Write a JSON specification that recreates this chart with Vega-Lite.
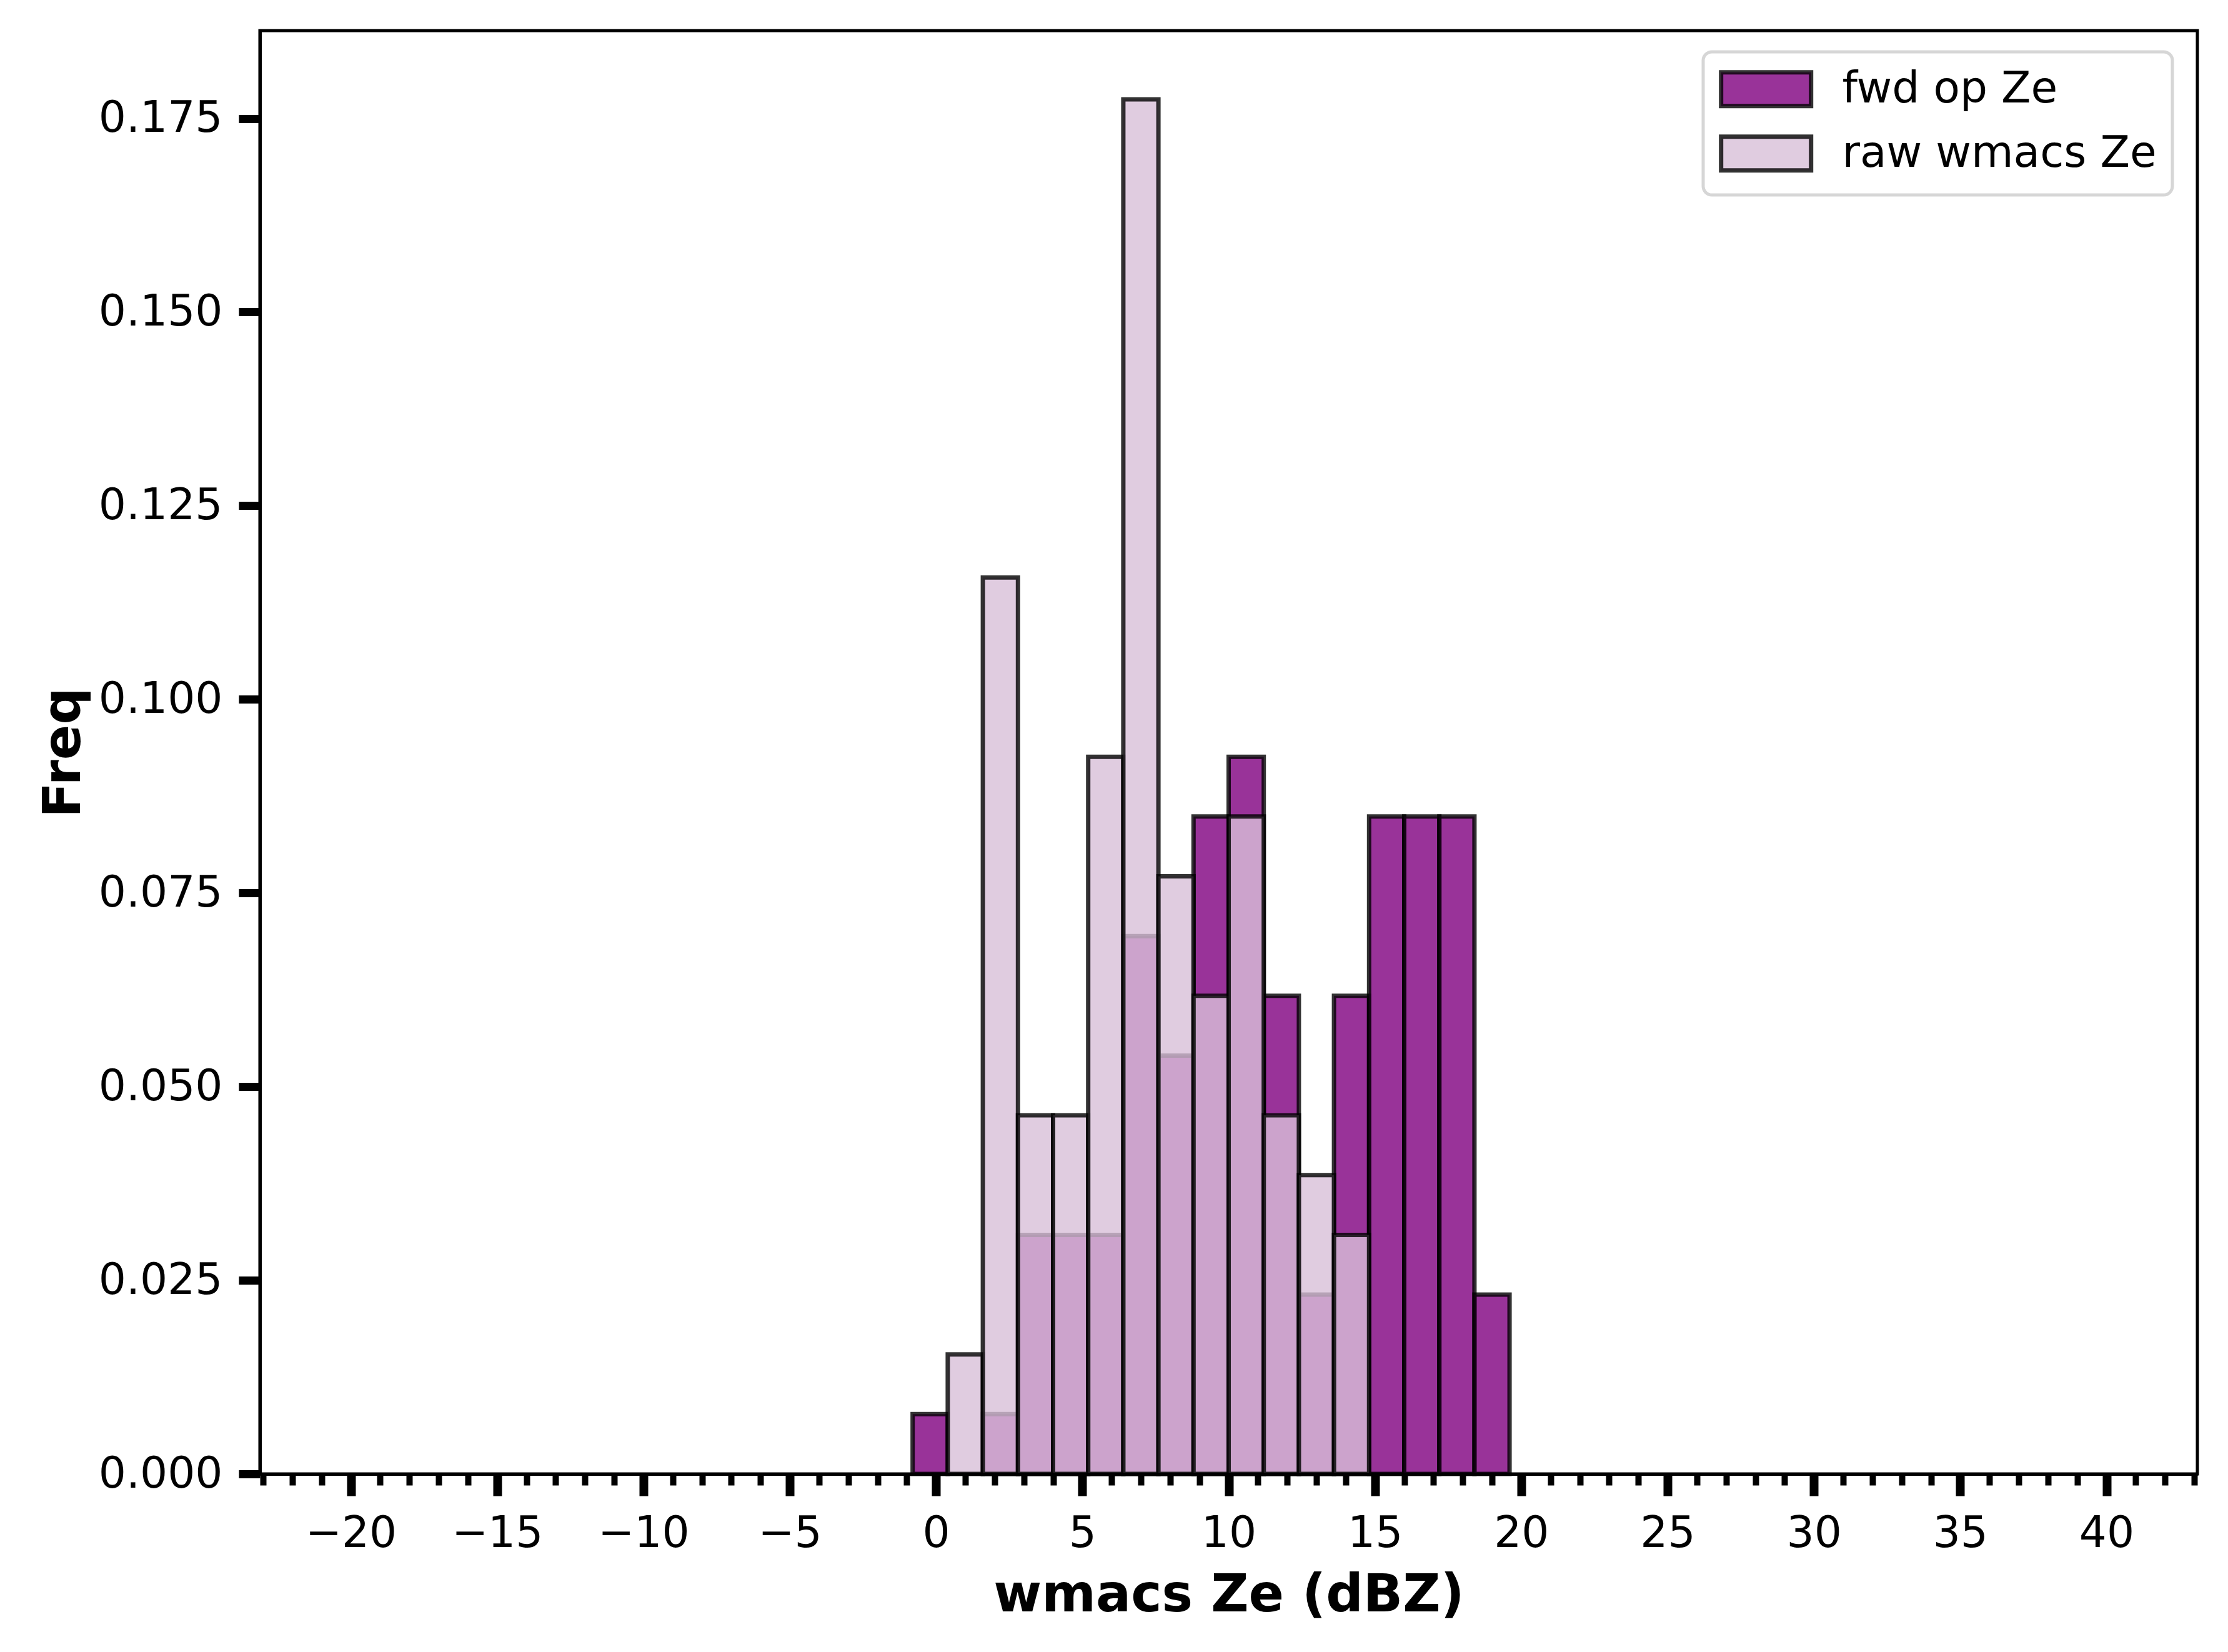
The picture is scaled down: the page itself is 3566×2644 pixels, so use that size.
{
  "$schema": "https://vega.github.io/schema/vega-lite/v6.json",
  "width": 3101,
  "height": 2310,
  "autosize": {"type": "none"},
  "padding": {"left": 416, "top": 49, "right": 49, "bottom": 285},
  "background": "white",
  "config": {
    "font": "DejaVu Sans",
    "view": {"stroke": "black", "strokeWidth": 5},
    "axis": {"grid": false, "labelColor": "black", "titleColor": "black", "tickColor": "black", "domainColor": "black"}
  },
  "datasets": {
    "fwd": [
      {"series": "fwd op Ze", "x0": -0.8, "x1": 0.4, "freq": 0.00772},
      {"series": "fwd op Ze", "x0": 1.6, "x1": 2.8, "freq": 0.00772},
      {"series": "fwd op Ze", "x0": 2.8, "x1": 4.0, "freq": 0.03086},
      {"series": "fwd op Ze", "x0": 4.0, "x1": 5.2, "freq": 0.03086},
      {"series": "fwd op Ze", "x0": 5.2, "x1": 6.4, "freq": 0.03086},
      {"series": "fwd op Ze", "x0": 6.4, "x1": 7.6, "freq": 0.06944},
      {"series": "fwd op Ze", "x0": 7.6, "x1": 8.8, "freq": 0.05401},
      {"series": "fwd op Ze", "x0": 8.8, "x1": 10.0, "freq": 0.08488},
      {"series": "fwd op Ze", "x0": 10.0, "x1": 11.2, "freq": 0.09259},
      {"series": "fwd op Ze", "x0": 11.2, "x1": 12.4, "freq": 0.06173},
      {"series": "fwd op Ze", "x0": 12.4, "x1": 13.6, "freq": 0.02315},
      {"series": "fwd op Ze", "x0": 13.6, "x1": 14.8, "freq": 0.06173},
      {"series": "fwd op Ze", "x0": 14.8, "x1": 16.0, "freq": 0.08488},
      {"series": "fwd op Ze", "x0": 16.0, "x1": 17.2, "freq": 0.08488},
      {"series": "fwd op Ze", "x0": 17.2, "x1": 18.4, "freq": 0.08488},
      {"series": "fwd op Ze", "x0": 18.4, "x1": 19.6, "freq": 0.02315}
    ],
    "raw": [
      {"series": "raw wmacs Ze", "x0": 0.4, "x1": 1.6, "freq": 0.01543},
      {"series": "raw wmacs Ze", "x0": 1.6, "x1": 2.8, "freq": 0.11574},
      {"series": "raw wmacs Ze", "x0": 2.8, "x1": 4.0, "freq": 0.0463},
      {"series": "raw wmacs Ze", "x0": 4.0, "x1": 5.2, "freq": 0.0463},
      {"series": "raw wmacs Ze", "x0": 5.2, "x1": 6.4, "freq": 0.09259},
      {"series": "raw wmacs Ze", "x0": 6.4, "x1": 7.6, "freq": 0.17747},
      {"series": "raw wmacs Ze", "x0": 7.6, "x1": 8.8, "freq": 0.07716},
      {"series": "raw wmacs Ze", "x0": 8.8, "x1": 10.0, "freq": 0.06173},
      {"series": "raw wmacs Ze", "x0": 10.0, "x1": 11.2, "freq": 0.08488},
      {"series": "raw wmacs Ze", "x0": 11.2, "x1": 12.4, "freq": 0.0463},
      {"series": "raw wmacs Ze", "x0": 12.4, "x1": 13.6, "freq": 0.03858},
      {"series": "raw wmacs Ze", "x0": 13.6, "x1": 14.8, "freq": 0.03086}
    ]
  },
  "resolve": {"scale": {"x": "shared", "y": "shared", "color": "shared"}, "axis": {"x": "independent"}},
  "layer": [
    {
      "data": {"name": "fwd"},
      "mark": {"type": "bar", "orient": "vertical", "fillOpacity": 0.8, "stroke": "black", "strokeOpacity": 0.8, "strokeWidth": 7},
      "encoding": {
        "x": {
          "field": "x0", "type": "quantitative",
          "scale": {"domain": [-23, 43], "nice": false, "zero": false},
          "axis": {
            "orient": "bottom",
            "values": [-23,-22,-21,-20,-19,-18,-17,-16,-15,-14,-13,-12,-11,-10,-9,-8,-7,-6,-5,-4,-3,-2,-1,0,1,2,3,4,5,6,7,8,9,10,11,12,13,14,15,16,17,18,19,20,21,22,23,24,25,26,27,28,29,30,31,32,33,34,35,36,37,38,39,40,41,42,43],
            "labels": false, "title": null, "domain": false,
            "tickSize": 18, "tickWidth": 10
          }
        },
        "x2": {"field": "x1"},
        "y": {
          "field": "freq", "type": "quantitative", "stack": null,
          "scale": {"domain": [0, 0.18634], "nice": false},
          "axis": {
            "values": [0, 0.025, 0.05, 0.075, 0.1, 0.125, 0.15, 0.175],
            "format": ".3f",
            "title": "Freq",
            "titleFontSize": 83.3, "titleFontWeight": "bold", "titlePadding": 72,
            "labelFontSize": 69.4, "labelPadding": 26, "labelLimit": 600,
            "tickSize": 34, "tickWidth": 13,
            "domain": true, "domainWidth": 5, "zindex": 1
          }
        },
        "y2": {"datum": 0},
        "color": {
          "field": "series", "type": "nominal",
          "scale": {"domain": ["fwd op Ze", "raw wmacs Ze"], "range": ["#800080", "#d8bfd8"]},
          "legend": {
            "title": null,
            "orient": "none",
            "legendX": 2310,
            "legendY": 34,
            "padding": 25,
            "fillColor": "white",
            "strokeColor": "#d6d6d6",
            "cornerRadius": 14,
            "symbolType": "M-2.338,-0.877H2.338V0.877H-2.338Z",
            "symbolSize": 3795,
            "symbolOffset": 41,
            "symbolStrokeWidth": 7,
            "symbolStrokeColor": "black",
            "labelFontSize": 69.4,
            "labelColor": "black",
            "labelOffset": 87,
            "rowPadding": 20,
            "labelLimit": 1000,
            "encode": {
              "symbols": {"update": {"fillOpacity": {"value": 0.8}, "strokeOpacity": {"value": 0.8}, "opacity": {"value": 1}}},
              "legend": {"update": {"strokeWidth": {"value": 5}}}
            }
          }
        }
      }
    },
    {
      "data": {"name": "raw"},
      "mark": {"type": "bar", "orient": "vertical", "fillOpacity": 0.8, "stroke": "black", "strokeOpacity": 0.8, "strokeWidth": 7},
      "encoding": {
        "x": {
          "field": "x0", "type": "quantitative",
          "axis": {
            "orient": "bottom",
            "values": [-20, -15, -10, -5, 0, 5, 10, 15, 20, 25, 30, 35, 40],
            "labelExpr": "replace(datum.label, '-', '\u2212')",
            "title": "wmacs Ze (dBZ)",
            "titleFontSize": 83.3, "titleFontWeight": "bold", "titlePadding": 24,
            "labelFontSize": 69.4, "labelPadding": 26,
            "tickSize": 35, "tickWidth": 14,
            "domain": true, "domainWidth": 5, "zindex": 1
          }
        },
        "x2": {"field": "x1"},
        "y": {"field": "freq", "type": "quantitative", "stack": null},
        "y2": {"datum": 0},
        "color": {"field": "series", "type": "nominal"}
      }
    }
  ]
}
